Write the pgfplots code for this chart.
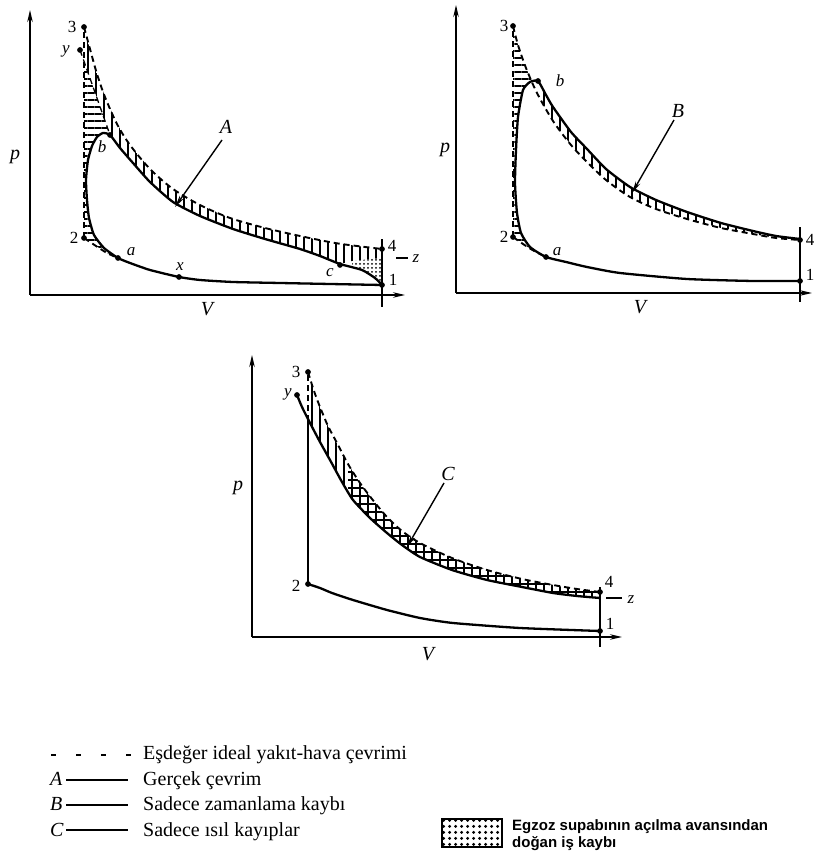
\documentclass[border=0pt]{standalone}
\usepackage{fontspec}
\setmainfont{Liberation Serif}
\newfontfamily\sansf{Liberation Sans}
\usepackage{pgfplots}
\pgfplotsset{compat=1.18}
\usetikzlibrary{arrows.meta,patterns,patterns.meta}
\tikzset{
 lab/.style={font=\fontsize{17bp}{17bp}\selectfont,inner sep=0pt},
 ilab/.style={font=\itshape\fontsize{17bp}{17bp}\selectfont,inner sep=0pt},
 big/.style={font=\itshape\fontsize{20bp}{20bp}\selectfont,inner sep=0pt},
}
\pgfplotsset{
 diag/.style={x=1bp,y=1bp,axis lines=left,
   axis line style={line width=1.4bp,-{Stealth[length=12bp,width=5.5bp]}},
   xtick=\empty,ytick=\empty,clip=false,xmin=0,ymin=0,anchor=south west},
 sol/.style={black,line width=2.3bp,no markers,smooth,tension=0.35},
 das/.style={black,line width=1.9bp,no markers,dash pattern=on 6bp off 4bp},
 thn/.style={black,line width=1.4bp,no markers},
 pts/.style={only marks,mark=*,mark size=2.6bp,black},
 vh/.style={draw=none,pattern={Lines[angle=90,distance=8bp,line width=1.1bp]}},
 hh/.style={draw=none,pattern={Lines[angle=0,distance=7bp,line width=1.1bp]}},
 dh/.style={draw=none,pattern={Dots[distance=4bp,radius=1bp]}},
 ar/.style={black,line width=1.4bp,no markers,-{Stealth[length=12bp,width=5bp]}},
}
\begin{document}
\begin{tikzpicture}
\path[use as bounding box] (0,0) rectangle (821bp,856bp);

% ---------------- Diagram A ----------------
\begin{axis}[diag,at={(30bp,561bp)},xmax=375,ymax=285]
\addplot[hh] coordinates {(54,57) (54,234) (80,160) (73,162) (67,158) (62,149) (58,135) (56,115) (57,95) (59,77) (64,60) (74,47) (88,37) (77,42) (66,49) (54,57)};
\addplot[vh] coordinates {(54,268) (60,246) (67,221) (75,198) (87,171) (100,150) (120,126) (143,106) (170,90) (200,77) (235,67) (270,59) (305,52) (335,48) (352,46) (352,37) (322,34) (310,31) (290,39) (270,46) (235,56) (203,66) (170,79) (143,93) (120,113) (103,132) (90,147) (80,160) (54,234)};
\addplot[dh] coordinates {(322,34) (352,37) (352,10) (345,17) (332,25) (322,28)};
% ideal cycle (dashed)
\addplot[das] coordinates {(54,57) (54,268)};
\addplot[das,smooth] coordinates {(54,268) (60,246) (67,221) (75,198) (87,171) (100,150) (120,126) (143,106) (170,90) (200,77) (235,67) (270,59) (305,52) (335,48) (352,46)};
\addplot[das,smooth] coordinates {(54,57) (66,49) (77,42) (88,37)};
\addplot[das,line width=1.3bp] coordinates {(50,245) (80,160)};
\addplot[thn] coordinates {(366,37) (378,37)};
% actual cycle
\addplot[sol] coordinates {(352,10) (300,11) (250,12) (203,13) (170,15) (149,18) (120,25) (100,32) (88,37) (74,47) (64,60) (59,77) (57,95) (56,115) (58,135) (62,149) (67,158) (73,162) (80,160) (90,147) (103,132) (120,113) (143,93) (170,79) (203,66) (235,56) (270,46) (290,39) (310,31) (332,25) (345,17) (352,10)};
\addplot[thn] coordinates {(352,-12) (352,56)};
\addplot[pts] coordinates {(54,268) (50,245) (80,160) (54,57) (88,37) (149,18) (310,30) (352,10) (352,46)};
\addplot[ar] coordinates {(192,155) (145,88)};
\node[lab] at (axis cs:42,268) {3};
\node[ilab] at (axis cs:36,244) {y};
\node[ilab] at (axis cs:72,148) {b};
\node[lab] at (axis cs:44,57) {2};
\node[ilab] at (axis cs:101,43) {a};
\node[ilab] at (axis cs:150,28) {x};
\node[ilab] at (axis cs:300,22) {c};
\node[lab] at (axis cs:362,49) {4};
\node[lab] at (axis cs:363,15) {1};
\node[ilab] at (axis cs:386,36) {z};
\node[big] at (axis cs:196,168) {A};
\node[big] at (axis cs:-15,138) {p};
\node[big] at (axis cs:177,-14) {V};
\end{axis}

% ---------------- Diagram B ----------------
\begin{axis}[diag,at={(456bp,563bp)},xmax=356,ymax=288]
\addplot[hh] coordinates {(57,56) (57,267) (62,248) (70,225) (76,212) (74,211) (67,203) (62,176) (60,143) (59,110) (61,80) (65,60) (74,46) (90,36) (80,41) (70,47) (57,56)};
\addplot[vh] coordinates {(82,212) (90,198) (97,186) (115,161) (131,144) (150,124) (174,106) (200,93) (231,81) (265,70) (297,62) (320,57) (344,54) (344,53) (320,55) (297,59) (265,65) (231,74) (200,84) (174,96) (150,113) (131,131) (115,148) (97,172) (81,200)};
\addplot[das] coordinates {(57,56) (57,267)};
\addplot[das,smooth] coordinates {(57,267) (62,248) (70,225) (81,200) (97,172) (115,148) (131,131) (150,113) (174,96) (200,84) (231,74) (265,65) (297,59) (320,55) (344,53)};
\addplot[das,smooth] coordinates {(57,56) (70,47) (80,41) (90,36)};
\addplot[sol] coordinates {(344,12) (297,12) (231,14) (164,20) (131,26) (110,31) (90,36) (74,46) (65,60) (61,80) (59,110) (60,143) (62,176) (67,203) (74,211) (82,212) (90,198) (97,186) (115,161) (131,144) (150,124) (174,106) (200,93) (231,81) (265,70) (297,62) (320,57) (344,54)};
\addplot[thn] coordinates {(344,-9) (344,66)};
\addplot[pts] coordinates {(57,267) (82,212) (57,56) (90,36) (344,53) (344,12)};
\addplot[ar] coordinates {(218,173) (176,100)};
\node[lab] at (axis cs:48,267) {3};
\node[ilab] at (axis cs:104,212) {b};
\node[lab] at (axis cs:48,56) {2};
\node[ilab] at (axis cs:101,41) {a};
\node[lab] at (axis cs:354,53) {4};
\node[lab] at (axis cs:354,18) {1};
\node[big] at (axis cs:222,182) {B};
\node[big] at (axis cs:-11,143) {p};
\node[big] at (axis cs:184,-14) {V};
\end{axis}

% ---------------- Diagram C ----------------
\begin{axis}[diag,at={(252bp,219bp)},xmax=370,ymax=282]
\addplot[vh] coordinates {(56,265) (62,246) (68,230) (76,211) (85,194) (96,173) (108,154) (120,138) (135,120) (150,106) (168,94) (200,79) (235,67) (270,58) (301,52) (325,48) (348,45) (348,39) (325,41) (301,44) (270,50) (235,57) (200,67) (168,80) (150,92) (135,104) (118,119) (101,137) (90,155) (78,177) (68,195) (58,214) (56,218)};
\addplot[draw=none,pattern={Lines[angle=0,distance=8bp,line width=1.1bp]}] coordinates {(96,173) (108,154) (120,138) (135,120) (150,106) (168,94) (200,79) (235,67) (270,58) (301,52) (325,48) (348,45) (348,39) (325,41) (301,44) (270,50) (235,57) (200,67) (168,80) (150,92) (135,104) (118,119) (101,137) (96,145)};
\addplot[das] coordinates {(56,216) (56,265)};
\addplot[das,smooth] coordinates {(56,265) (62,246) (68,230) (76,211) (85,194) (96,173) (108,154) (120,138) (135,120) (150,106) (168,94) (200,79) (235,67) (270,58) (301,52) (325,48) (348,45)};
\addplot[sol] coordinates {(45,242) (50,230) (58,214) (68,195) (78,177) (90,155) (101,137) (118,119) (135,104) (150,92) (168,80) (200,67) (235,57) (270,50) (301,44) (325,41) (348,39)};
\addplot[sol] coordinates {(56,53) (56,216)};
\addplot[sol] coordinates {(348,6) (268,9) (201,14) (168,19) (135,27) (101,37) (80,44) (68,49) (56,53)};
\addplot[thn] coordinates {(348,-10) (348,50)};
\addplot[thn] coordinates {(354,39) (370,39)};
\addplot[pts] coordinates {(56,265) (45,242) (56,53) (348,45) (348,6)};
\addplot[ar] coordinates {(192,154) (155,90)};
\node[lab] at (axis cs:44,265) {3};
\node[ilab] at (axis cs:36,243) {y};
\node[lab] at (axis cs:44,51) {2};
\node[lab] at (axis cs:357,55) {4};
\node[lab] at (axis cs:358,13) {1};
\node[ilab] at (axis cs:379,37) {z};
\node[big] at (axis cs:196,163) {C};
\node[big] at (axis cs:-14,149) {p};
\node[big] at (axis cs:176,-17) {V};
\end{axis}

% ---------------- Legend ----------------
\begin{scope}[every node/.style={font=\fontsize{20bp}{24bp}\selectfont,inner sep=0pt}]
\draw[line width=1.8bp,dash pattern=on 5bp off 20bp] (51bp,101bp) -- (131bp,101bp);
\node[anchor=base west] at (143bp,96bp) {Eşdeğer ideal yakıt-hava çevrimi};
\node[anchor=base west] at (50bp,70bp) {\textit{A}};
\draw[line width=1.3bp] (66bp,76bp) -- (128bp,76bp);
\node[anchor=base west] at (143bp,70bp) {Gerçek çevrim};
\node[anchor=base west] at (50bp,45bp) {\textit{B}};
\draw[line width=1.3bp] (66bp,51bp) -- (128bp,51bp);
\node[anchor=base west] at (143bp,45bp) {Sadece zamanlama kaybı};
\node[anchor=base west] at (50bp,20bp) {\textit{C}};
\draw[line width=1.3bp] (66bp,26bp) -- (128bp,26bp);
\node[anchor=base west] at (143bp,20bp) {Sadece ısıl kayıplar};
\end{scope}
\draw[line width=1.6bp,pattern={Dots[distance=6bp,radius=1.8bp]}] (442bp,9bp) rectangle (502bp,37bp);
\node[anchor=base west,inner sep=0pt,font=\sansf\bfseries\fontsize{15bp}{17bp}\selectfont] at (512bp,26bp) {Egzoz supabının açılma avansından};
\node[anchor=base west,inner sep=0pt,font=\sansf\bfseries\fontsize{15bp}{17bp}\selectfont] at (512bp,9bp) {doğan iş kaybı};
\end{tikzpicture}
\end{document}
